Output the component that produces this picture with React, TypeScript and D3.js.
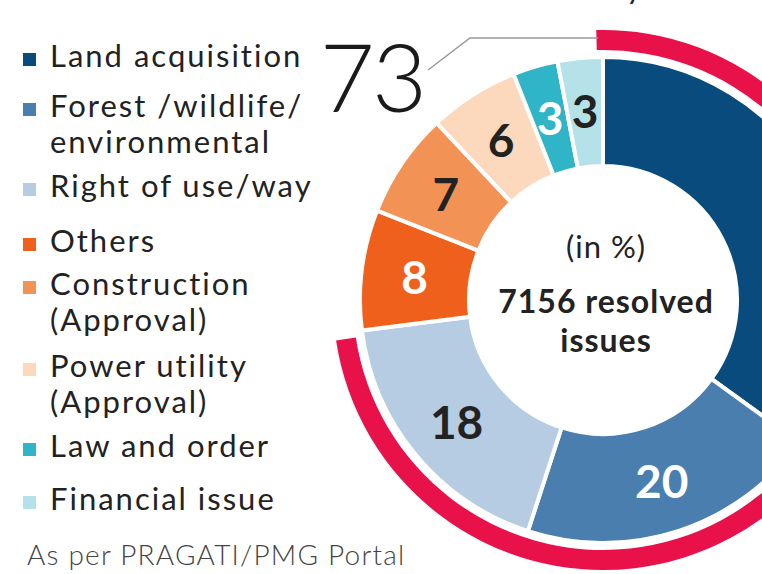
import React from "react";
import * as d3 from "d3";

const categories = [
  "Land acquisition",
  "Forest /wildlife/ environmental",
  "Right of use/way",
  "Others",
  "Construction (Approval)",
  "Power utility (Approval)",
  "Law and order",
  "Financial issue",
];
const values = [35, 20, 18, 8, 7, 6, 3, 3];
const legendLines = [
  ["Land acquisition"],
  ["Forest /wildlife/", "environmental"],
  ["Right of use/way"],
  ["Others"],
  ["Construction", "(Approval)"],
  ["Power utility", "(Approval)"],
  ["Law and order"],
  ["Financial issue"],
];
const highlightedCount = 3; // first three categories form the highlighted share
const highlightLabel = "73";
const centerLines = ["(in %)", "7156 resolved", "issues"];
const sourceNote = "As per PRAGATI/PMG Portal";

// styles
const COLORS = ["#0a4b7d", "#4a7eaf", "#b5cce2", "#f0601d", "#f39255", "#fcd8bd", "#30b4c7", "#b5e1e9"];
const LABEL_COLORS = ["#ffffff", "#ffffff", "#222222", "#ffffff", "#222222", "#222222", "#ffffff", "#222222"];
const SHOW_LABEL = [false, true, true, true, true, true, true, true];
const RED = "#e8114a";
const FONT = "Lato, 'Open Sans', sans-serif";
const W = 762;
const H = 574;
const CX = 603;
const CY = 300;
const R_IN = 134;
const R_OUT = 243;
const LEGEND_BASELINES = [67, 117, 197, 252, 295, 377, 457, 510];
const LINE_GAP = 36;

export default function App() {
  const pie = d3
    .pie<number>()
    .sort(null)
    .value((d) => d)
    .startAngle(0)
    .endAngle(2 * Math.PI);
  const arcs = pie(values);
  const arcGen = d3.arc<d3.PieArcDatum<number>>().innerRadius(R_IN).outerRadius(R_OUT);
  const labelArc = d3.arc<d3.PieArcDatum<number>>().innerRadius(190).outerRadius(190);

  const total = d3.sum(values);
  const hlShare = d3.sum(values.slice(0, highlightedCount)) / total;
  const rot = -0.025;
  const redArc = d3
    .arc()
    .innerRadius(250)
    .outerRadius(270)({
      startAngle: rot,
      endAngle: hlShare * 2 * Math.PI + rot,
      innerRadius: 250,
      outerRadius: 270,
    } as any);

  return (
    <svg
      width={W}
      height={H}
      style={{ position: "absolute", left: 0, top: 0, background: "#fff" }}
      fontFamily={FONT}
    >
      <rect width={W} height={H} fill="#fff" />
      {/* fragment of title above */}
      <text x={626} y={-1} fontSize={31} fill="#222">
        y
      </text>

      <g transform={`translate(${CX},${CY})`}>
        {arcs.map((a, i) => (
          <path key={i} d={arcGen(a) || ""} fill={COLORS[i]} stroke="#fff" strokeWidth={4} strokeLinejoin="miter" />
        ))}
        <path d={redArc || ""} fill={RED} />
        {arcs.map((a, i) => {
          if (!SHOW_LABEL[i]) return null;
          const [x, y] = labelArc.centroid(a);
          return (
            <text
              key={"l" + i}
              x={x}
              y={y}
              textAnchor="middle"
              dominantBaseline="central"
              fontSize={46}
              fontWeight={700}
              fill={LABEL_COLORS[i]}
            >
              {values[i]}
            </text>
          );
        })}
        <text x={3} y={-42} textAnchor="middle" fontSize={31} letterSpacing={1} fill="#222">
          {centerLines[0]}
        </text>
        <text x={3} y={13} textAnchor="middle" fontSize={32} fontWeight={700} letterSpacing={1} fill="#222">
          {centerLines[1]}
        </text>
        <text x={3} y={52} textAnchor="middle" fontSize={32} fontWeight={700} letterSpacing={1} fill="#222">
          {centerLines[2]}
        </text>
      </g>

      {/* leader for highlighted share */}
      <polyline points="598,38 470,38 428,70" fill="none" stroke="#999" strokeWidth={1.5} />
      <text x={424} y={112} textAnchor="end" fontSize={95} fontWeight={300} letterSpacing={-3} fill="#1a1a1a">
        {highlightLabel}
      </text>

      {/* legend */}
      {categories.map((c, i) => {
        const by = LEGEND_BASELINES[i];
        return (
          <g key={"lg" + i}>
            <rect x={23} y={by - 14} width={13} height={13} fill={COLORS[i]} />
            {legendLines[i].map((ln, j) => (
              <text key={j} x={50} y={by + j * LINE_GAP} fontSize={31} letterSpacing={2} fill="#222">
                {ln}
              </text>
            ))}
          </g>
        );
      })}
      <text x={27} y={565} fontSize={28} fontWeight={300} letterSpacing={1.2} fill="#444">
        {sourceNote}
      </text>
    </svg>
  );
}
